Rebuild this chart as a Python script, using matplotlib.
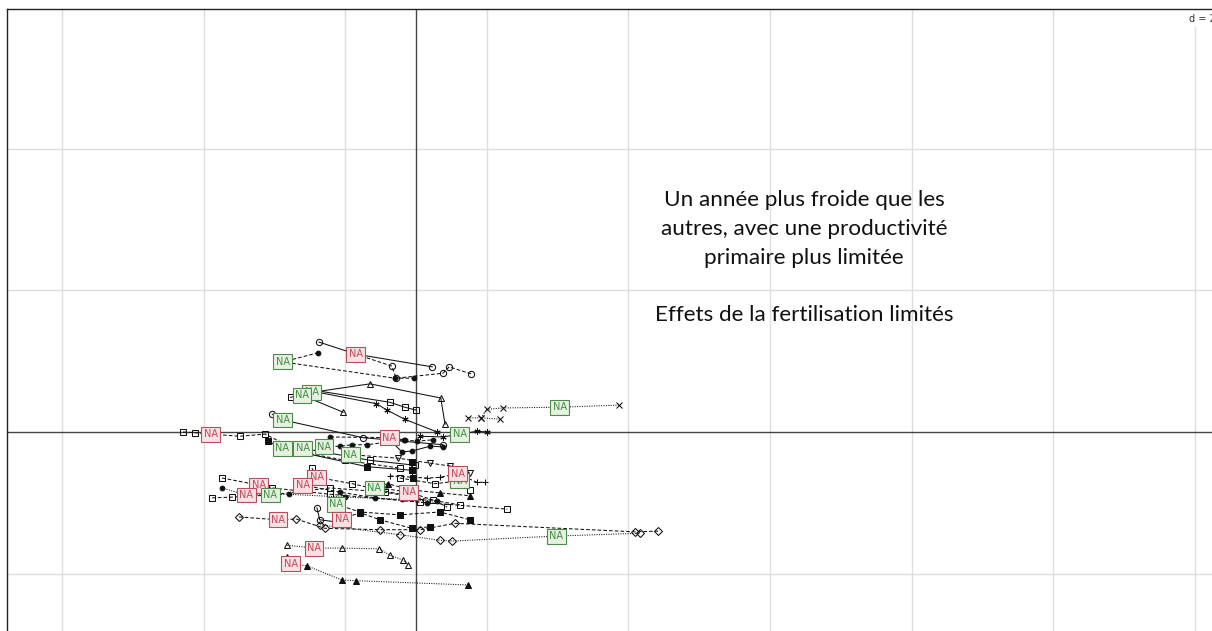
import matplotlib
matplotlib.use("Agg")
import matplotlib.pyplot as plt

# ---- trajectories (factorial coordinates, one list per group) ----
traj_x = [
    [-1.37, -0.85, 0.23],
    [-0.85, -0.34, -0.28, 0.38, 0.47, 0.78],
    [-1.38, -1.88, -0.30, -0.03],
    [-1.47, -0.65, 0.35, 0.41],
    [-1.61, -1.03],
    [-1.77, -1.38, -0.37, -0.16, 0.00],
    [-1.38, -0.56, -0.41, -0.16, 0.30],
    [0.73, 0.92, 1.19],
    [0.92, 1.00, 1.23, 2.03, 2.87],
    [-2.03, -1.88, -0.75, 0.38],
    [0.06, 0.38, 0.62, 0.86, 1.00],
    [-3.29, -3.12, -2.90, -2.49, -2.13, -1.64, -1.00, -0.23],
    [-1.21, -0.38, -0.17, 0.01, 0.24],
    [-0.37, -0.20, -0.06, 0.20, 0.38],
    [-2.09, -1.89, -0.69, -0.06],
    [-1.78, -1.60, -0.65, -0.01],
    [-1.30, -1.07, -0.90, -0.69, -0.16],
    [-0.93, -0.25, 0.20, 0.48, 0.76],
    [-0.23, 0.27, 0.62, 0.76],
    [-0.37, 0.16, 0.34, 0.59, 0.86, 0.97],
    [-2.74, -2.22, -2.03, -1.21, 0.06, 1.29],
    [-2.74, -2.40, -1.80, -1.00, -0.20, 0.30],
    [-2.88, -2.60, -2.06, -1.21, -0.44, 0.62],
    [-1.47, -1.40, -0.90, -0.51, -0.01],
    [-1.60, -1.07, -0.58, 0.16],
    [-0.59, -0.40, -0.06, 0.34, 0.76],
    [-1.13, -0.79, -0.23, 0.34, 0.76],
    [-2.50, -1.95, -1.69, -1.29, -0.51, 0.06, 0.55, 3.09, 3.42],
    [-1.36, -0.23, 0.34, 0.51, 1.98, 3.16],
    [-1.05, -0.79, -0.51, -0.06, 0.20],
    [-1.82, -1.44, -1.05, -0.52, -0.37, -0.18, -0.11],
    [-1.82, -1.77, -1.54, -1.05, -0.85, 0.73],
    [-0.51, -0.10, 0.24, 0.44],
    [-0.06, -0.06, -0.04],
    [-1.40, -1.36, -1.05],
]
traj_y = [
    [1.27, 1.10, 0.92],
    [1.10, 0.93, 0.76, 0.83, 0.92, 0.82],
    [1.12, 0.99, 0.76, 0.76],
    [0.56, 0.68, 0.48, 0.11],
    [0.52, 0.28],
    [0.49, 0.58, 0.42, 0.35, 0.31],
    [0.56, 0.40, 0.31, 0.18, 0.00],
    [0.20, 0.20, 0.18],
    [0.20, 0.32, 0.34, 0.35, 0.38],
    [0.25, 0.17, -0.08, -0.18],
    [-0.06, -0.07, -0.03, 0.01, 0.00],
    [0.00, -0.01, -0.03, -0.06, -0.03, -0.28, -0.40, -0.51],
    [-0.07, -0.08, -0.11, -0.13, -0.11],
    [-0.11, -0.28, -0.27, -0.20, -0.21],
    [-0.13, -0.23, -0.49, -0.54],
    [-0.20, -0.23, -0.40, -0.47],
    [-0.21, -0.20, -0.18, -0.18, -0.11],
    [-0.32, -0.37, -0.44, -0.48, -0.58],
    [-0.65, -0.73, -0.69, -0.82],
    [-0.62, -0.65, -0.64, -0.59, -0.71, -0.71],
    [-0.65, -0.75, -0.79, -0.88, -0.99, -1.09],
    [-0.79, -0.89, -0.88, -0.92, -0.95, -0.98],
    [-0.93, -0.92, -0.89, -0.79, -0.85, -1.03],
    [-0.51, -0.64, -0.73, -0.82, -0.92],
    [-0.75, -0.85, -0.93, -1.00],
    [-0.79, -0.73, -0.82, -0.86, -0.90],
    [-1.02, -1.13, -1.17, -1.13, -1.24],
    [-1.20, -1.24, -1.23, -1.36, -1.38, -1.38, -1.29, -1.41, -1.40],
    [-1.31, -1.45, -1.53, -1.54, -1.47, -1.43],
    [-1.23, -1.14, -1.24, -1.36, -1.34],
    [-1.60, -1.64, -1.64, -1.65, -1.74, -1.81, -1.88],
    [-1.77, -1.86, -1.89, -2.09, -2.10, -2.16],
    [-0.79, -0.85, -0.96, -1.06],
    [-0.42, -0.54, -0.65],
    [-1.07, -1.24, -1.28],
]
# index of the point carrying the (missing) class label, None = no label
label_pos = [1, None, 1, 0, 0, None, None, None, 3, 1, 2, 2, 1, None, 1, 1, 0, 0,
             2, 3, 1, 1, 2, 1, 0, 0, 0, 1, 4, 0, 1, 1, 1, None, None]
label_group = ["r", None, "g", "g", "g", None, None, None, "g", "g", "g", "r", "r", None,
               "g", "g", "g", "g", "g", "r", "r", "r", "g", "r", "r", "g", "g", "r",
               "g", "r", "r", "r", "r", None, None]
label_text = "NA"

# ---- symbol / line type per group ----
ASTER = (6, 2, 0)
traj_marker = ["o", "o", "o", "^", "^", "s", ASTER, "x", "x", "o", ASTER, "s", "o", "o",
               "s", "s", "o", "v", "s", "+", "s", "o", "s", "s", "o", "^", "s", "D",
               "D", "s", "^", "^", "s", "s", "o"]
traj_filled = [False, False, True, False, False, False, False, False, False, False, False,
               False, True, True, True, False, True, False, False, False, False, True,
               False, False, True, True, True, False, False, True, False, True, False,
               True, False]
SOLID, DASH, DOT = "-", (0, (3.5, 2)), (0, (1, 1.3))
traj_ls = [SOLID, DASH, DASH, SOLID, SOLID, SOLID, SOLID, DOT, DOT, SOLID, SOLID, DASH,
           DASH, SOLID, SOLID, SOLID, DASH, DASH, DASH, DASH, DASH, DOT, DASH, DASH, DASH,
           DASH, DASH, DASH, DOT, DASH, DOT, DOT, DASH, SOLID, SOLID]

# ---- figure ----
W, H = 1212, 631
fig = plt.figure(figsize=(W / 100, H / 100), dpi=100)
left_px, top_px, right_px, bottom_px = 7, 9, 1216, 650
ax = fig.add_axes([left_px / W, (H - bottom_px) / H,
                   (right_px - left_px) / W, (bottom_px - top_px) / H])
unit = 70.8
ax.set_xlim((left_px - 416) / unit, (right_px - 416) / unit)
ax.set_ylim((432 - bottom_px) / unit, (432 - top_px) / unit)
ax.set_xticks([])
ax.set_yticks([])
for side in ["left", "top", "right", "bottom"]:
    ax.spines[side].set_linewidth(1.0)
    ax.spines[side].set_color("#222222")

grid_x = [-5, -3, -1, 1, 3, 5, 7, 9, 11]
grid_y = [-2, 2, 4]
for gx in grid_x:
    ax.axvline(gx, color="#dedede", lw=1.0, zorder=0)
for gy in grid_y:
    ax.axhline(gy, color="#dedede", lw=1.0, zorder=0)
ax.axhline(0, color="#444444", lw=1.0, zorder=1)
ax.axvline(0, color="#444444", lw=1.0, zorder=1)

for xs, ys, mk, fl, ls in zip(traj_x, traj_y, traj_marker, traj_filled, traj_ls):
    ms = 3.4 if (fl and mk == "o") else 4.5
    ax.plot(xs, ys, color="#111111", lw=0.75, linestyle=ls, marker=mk, ms=ms,
            mfc="#111111" if fl else "none", mec="#111111", mew=0.75, zorder=3)

colors = {"r": ("#c8455a", "#f7e1e3", "#b2505f"),
          "g": ("#3f8f3f", "#e7f1e2", "#4c8a4c")}
for xs, ys, pos, grp in zip(traj_x, traj_y, label_pos, label_group):
    if pos is None:
        continue
    tc, fc, ec = colors[grp]
    ax.text(xs[pos], ys[pos], label_text, color=tc, fontsize=7, ha="center", va="center",
            family="DejaVu Sans", zorder=5,
            bbox=dict(boxstyle="square,pad=0.25", fc=fc, ec=ec, lw=0.8))

# annotation text
note_lines = ["Un année plus froide que les", "autres, avec une productivité",
              "primaire plus limitée"]
for i, line in enumerate(note_lines):
    ax.text(5.48, 3.28 - i * 0.41, line, fontsize=16.2, family="Lato",
            ha="center", va="center", color="#111111")
ax.text(5.48, 1.65, "Effets de la fertilisation limités", fontsize=16.2, family="Lato",
        ha="center", va="center", color="#111111")

ax.text(1.0, 0.992, "d = 2", transform=ax.transAxes, ha="right", va="top",
        fontsize=7, color="#333333", zorder=6,
        bbox=dict(boxstyle="square,pad=0.3", fc="white", ec="none"))

fig.savefig("out.png", dpi=100)
